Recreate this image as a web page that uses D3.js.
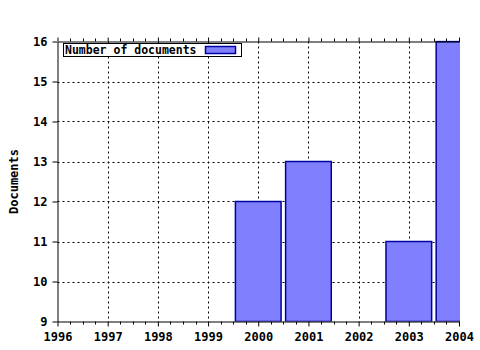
<!DOCTYPE html>
<html><head><meta charset="utf-8">
<script src="https://cdn.jsdelivr.net/npm/d3@7"></script>
<style>body{margin:0;background:#fff}svg{display:block}text{font-family:"DejaVu Sans Mono",monospace;font-weight:bold;font-size:12px;fill:#000}</style>
</head><body>
<script>
const years = ["1996","1997","1998","1999","2000","2001","2002","2003","2004"];
const barYears = ["2000","2001","2003","2004"];
const barValues = [12, 13, 11, 16];
const yTicks = [9,10,11,12,13,14,15,16];
const seriesName = "Number of documents";
const yTitle = "Documents";

const W=480,H=350, L=57.5, R=459, T=41.5, B=321.5;
const svg=d3.select("body").append("svg").attr("width",W).attr("height",H);
const x=d3.scalePoint().domain(years).range([L,R]);
const y=d3.scaleLinear().domain([9,16]).range([B,T]);
const step=x.step();

svg.append("clipPath").attr("id","c").append("rect").attr("x",L).attr("y",T-1).attr("width",R-L+1).attr("height",B-T+1);

// grid
const g=svg.append("g");
g.selectAll(".gy").data(yTicks.slice(1,-1)).enter().append("line")
 .attr("x1",L).attr("x2",R).attr("y1",d=>Math.round(y(d))+0.5).attr("y2",d=>Math.round(y(d))+0.5)
 .attr("stroke","#000").attr("stroke-dasharray","2,3");
g.selectAll(".gx").data(years.slice(1)).enter().append("line")
 .attr("x1",d=>Math.round(x(d))+0.5).attr("x2",d=>Math.round(x(d))+0.5).attr("y1",T).attr("y2",B)
 .attr("stroke","#000").attr("stroke-dasharray","2,3");

// bars
const bw=step*0.91;
svg.append("g").attr("clip-path","url(#c)").selectAll("rect").data(barYears).enter().append("rect")
 .attr("x",(d)=>x(d)-bw/2).attr("width",bw)
 .attr("y",(d,i)=>y(barValues[i])).attr("height",(d,i)=>B-y(barValues[i]))
 .attr("fill","#8080ff").attr("stroke","#0000a0").attr("stroke-width",1.5);

// minor ticks
const minor=[];
for(let i=0;i<years.length-1;i++) for(let k=1;k<4;k++) minor.push(L+(i+k/4)*step);
svg.append("g").selectAll("line").data(minor).enter().append("line")
 .attr("x1",d=>Math.round(d)+0.5).attr("x2",d=>Math.round(d)+0.5).attr("y1",B).attr("y2",B+3).attr("stroke","#000");
svg.append("g").selectAll("line").data(minor).enter().append("line")
 .attr("x1",d=>Math.round(d)+0.5).attr("x2",d=>Math.round(d)+0.5).attr("y1",T).attr("y2",T-3).attr("stroke","#000");

// axes
const xa=svg.append("g").attr("transform",`translate(0,${B})`)
 .call(d3.axisBottom(x).tickSize(5).tickSizeOuter(0).tickPadding(4));
xa.selectAll("text").attr("dy","0.9em");
svg.append("g").attr("transform",`translate(0,${T})`)
 .call(d3.axisTop(x).tickSize(4).tickSizeOuter(0).tickFormat(""));
svg.append("g").attr("transform",`translate(${L},0)`)
 .call(d3.axisLeft(y).tickValues(yTicks).tickFormat(d3.format("d")).tickSize(5).tickSizeOuter(0).tickPadding(5));
svg.selectAll(".tick text").style("font-family","DejaVu Sans Mono").style("font-weight","bold").style("font-size","12px");
svg.selectAll(".domain,.tick line").attr("stroke","#000");

// y title
svg.append("text").attr("transform",`translate(18,${(T+B)/2}) rotate(-90)`).attr("text-anchor","middle").text(yTitle);

// legend
const lg=svg.append("g");
lg.append("rect").attr("x",63.5).attr("y",43.5).attr("width",178).attr("height",13).attr("fill","#fff").attr("stroke","#000");
lg.append("text").attr("x",65).attr("y",54).style("font-size","11.5px").text(seriesName);
lg.append("rect").attr("x",205.5).attr("y",46.5).attr("width",30).attr("height",7).attr("fill","#8080ff").attr("stroke","#0000a0").attr("stroke-width",1.5);
</script>
</body></html>
